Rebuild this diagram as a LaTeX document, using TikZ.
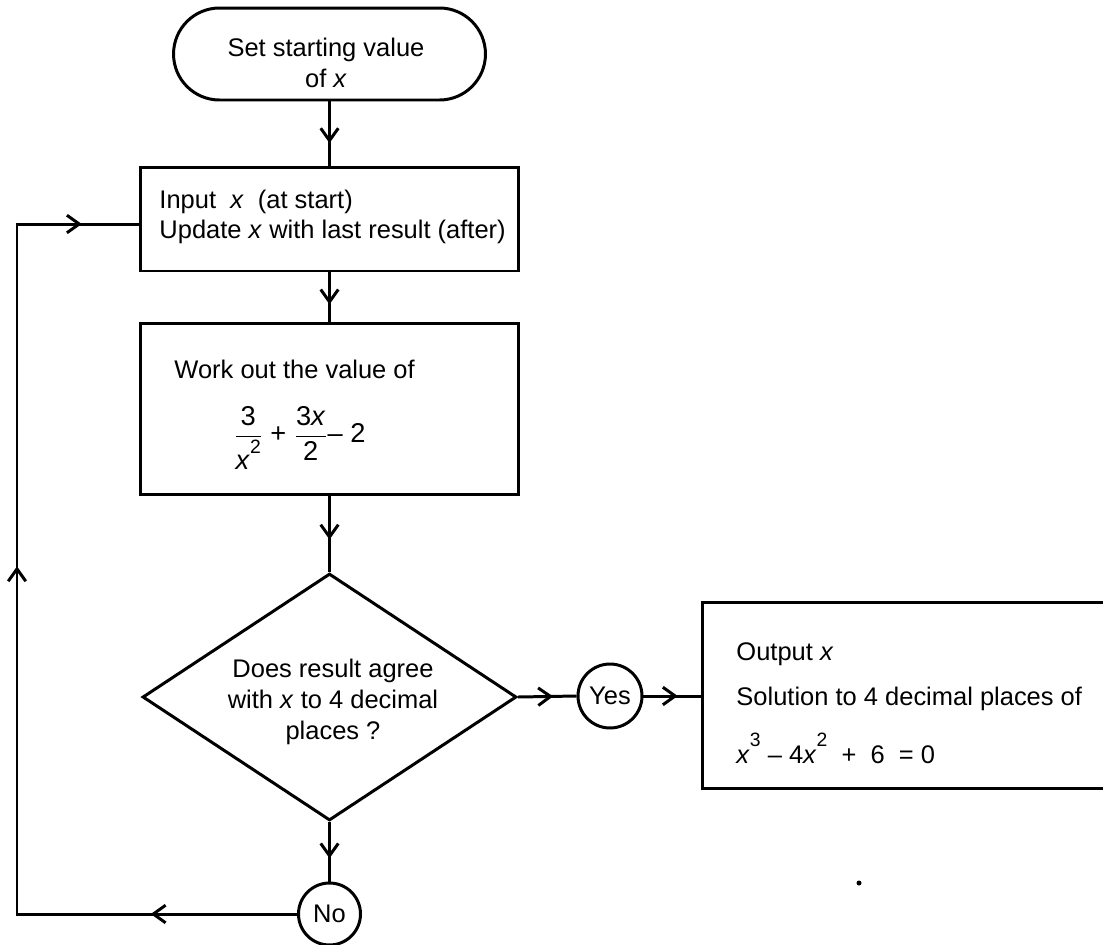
\documentclass[tikz,border=0pt]{standalone}
\usepackage{amsmath}
\usepackage{fontspec}
\setmainfont{Liberation Sans}
\usetikzlibrary{shapes, arrows.meta, decorations.markings}

\begin{document}
\begin{tikzpicture}[x=0.02cm, y=-0.02cm, line width=1.7pt,
    every node/.style={font=\fontsize{14.5}{17.5}\selectfont},
    box/.style={draw, rectangle, inner sep=0pt},
    txt/.style={inner sep=0pt},
    midarrow/.style={postaction={decorate}, decoration={markings,
        mark=at position #1 with {\arrow{Straight Barb[length=7pt, width=10pt]}}}}]
            \useasboundingbox (0,0) rectangle (1103,944);
            \clip (0,0) rectangle (1103,944);

            \node[draw, rounded corners=0.92cm, minimum width=6.24cm, minimum height=1.84cm] (start) at (329.5,54) {};
            \node[txt, align=center] (starttext) at (326,63) {Set starting value\\of \textit{x}};
            \node[box, minimum width=7.58cm, minimum height=2.08cm] (input) at (329.5,219) {};
            \node[txt, anchor=base west, align=left] (inputtext) at (158,208) {Input\ \ \textit{x}\ \ (at start)};
            \node[txt, anchor=base west, align=left] (updatetext) at (158,238) {Update \textit{x} with last result (after)};
            \node[box, minimum width=7.58cm, minimum height=3.44cm] (work) at (329.5,409) {};
            \node[txt, anchor=base west] (worktext) at (173,378) {Work out the value of};
            \node[txt, anchor=west, font=\fontsize{15.5}{18}\selectfont] (formula) at (232,438) {$\dfrac{\text{3}}{\text{\textit{x}\raisebox{1.1ex}{\fontsize{11}{12}\selectfont 2}}} \text{ + } \dfrac{\text{3\textit{x}}}{\text{2}} \text{-- 2}$};
            \node[draw, diamond, minimum width=7.48cm, minimum height=4.94cm, inner sep=0pt] (check) at (329.5,697) {};
            \node[txt, align=center] (checktext) at (333,702) {Does result agree\\with \textit{x} to 4 decimal\\places ?};
            \node[draw, circle, minimum size=1.28cm, inner sep=0pt] (yes) at (610,696) {Yes};
            \node[draw, circle, minimum size=1.24cm, inner sep=0pt] (no) at (329.5,914) {No};
            \node[box, minimum width=8.56cm, minimum height=3.74cm] (output) at (916,695.5) {};
            \node[txt, anchor=base west] (outa) at (735,660) {Output \textit{x}};
            \node[txt, anchor=base west] (outb) at (735,705) {Solution to 4 decimal places of};
            \node[txt, anchor=base west] (outc) at (735,763) {\textit{x}\raisebox{1.2ex}{\fontsize{11}{12}\selectfont 3} -- 4\textit{x}\raisebox{1.2ex}{\fontsize{11}{12}\selectfont 2}\ \ +\ \ 6\ \ = 0};
            \fill (859,883) circle (0.05cm);

            \coordinate (lb) at (17,914);
            \coordinate (lt) at (17,224);

            \draw[midarrow=0.65] (start) -- (input);
            \draw[midarrow=0.65] (input) -- (work);
            \draw[midarrow=0.57] (work) -- (check);
            \draw[midarrow=0.6] (check.east) -- (yes.west);
            \draw[midarrow=0.6] (yes.east) -- (yes.east -| output.west);
            \draw[midarrow=0.61] (check.south) -- (no.north);
            \draw[postaction={decorate}, decoration={markings,
                mark=at position 0.134 with {\arrow{Straight Barb[length=7pt, width=10pt]}},
                mark=at position 0.575 with {\arrow{Straight Barb[length=7pt, width=10pt]}},
                mark=at position 0.948 with {\arrow{Straight Barb[length=7pt, width=10pt]}}}]
                (no.west) -- (lb) -- (lt) -- (lt -| input.west);
\end{tikzpicture}
\end{document}
